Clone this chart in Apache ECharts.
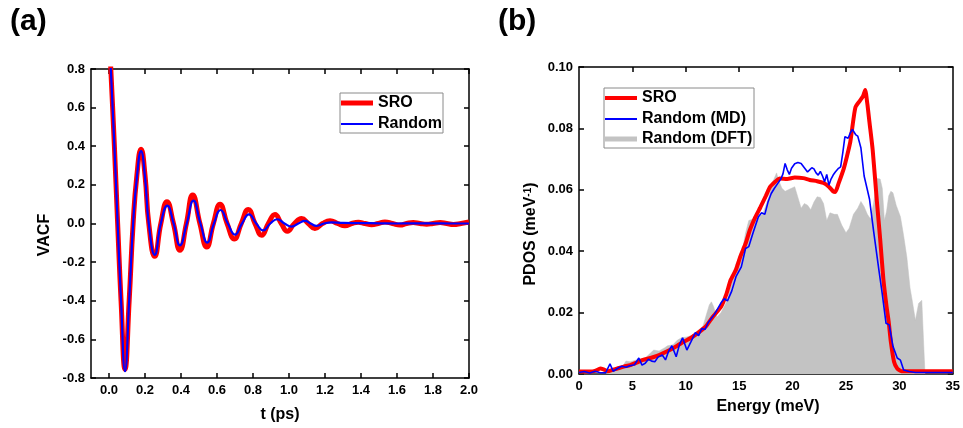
<!DOCTYPE html>
<html><head><meta charset="utf-8">
<script src="https://cdn.jsdelivr.net/npm/echarts@6/dist/echarts.min.js"></script>
<style>html,body{margin:0;padding:0;background:#fff}#c{width:963px;height:428px}</style>
</head><body><div id="c"></div>
<script>
// ---------- Panel (a): VACF ----------
const sroT = [0,0.01,0.03,0.048,0.067,0.089,0.112,0.134,0.155,0.178,0.2,0.221,0.254,0.288,0.322,0.358,0.394,0.43,0.465,0.505,0.543,0.58,0.617,0.656,0.696,0.735,0.774,0.811,0.848,0.885,0.922,0.957,0.991,1.03,1.07,1.107,1.144,1.186,1.228,1.27,1.311,1.348,1.385,1.422,1.459,1.496,1.533,1.575,1.617,1.653,1.69,1.728,1.765,1.8,1.84,1.876,1.913,1.956,2.0];
const sroV = [1.0,0.8,0.4,0,-0.4,-0.755,-0.4,0,0.25,0.385,0.25,0,-0.17,0,0.113,0,-0.139,0,0.148,0,-0.122,0,0.10,0,-0.08,0,0.073,0,-0.061,0,0.047,0,-0.04,0,0.026,0,-0.026,0,0.014,0,-0.012,0,0.007,0,-0.007,0,0.008,0,-0.008,0,0.005,0,-0.004,0,0.005,0,-0.005,0,0.008];
const rndT = [0,0.01,0.03,0.048,0.067,0.089,0.112,0.134,0.155,0.178,0.2,0.221,0.254,0.288,0.324,0.359,0.394,0.432,0.469,0.508,0.546,0.583,0.62,0.66,0.7,0.739,0.778,0.818,0.857,0.896,0.935,0.975,1.015,1.052,1.089,1.12,1.154,1.195,1.237,1.3,1.4,1.5,1.6,1.7,1.8,1.9,2.0];
const rndV = [1.0,0.8,0.4,0,-0.4,-0.765,-0.4,0,0.24,0.375,0.24,0,-0.162,0,0.093,0,-0.113,0,0.118,0,-0.099,0,0.07,0,-0.058,0,0.047,0,-0.036,0,0.022,0,-0.016,0,0.014,0,-0.012,0,0.006,0.003,0.002,0.001,0,0.001,0.001,0,0];
const vacfXTicks = [0,0.2,0.4,0.6,0.8,1.0,1.2,1.4,1.6,1.8,2.0];

// ---------- Panel (b): PDOS ----------
const sroE = [0,1,1.5,2.0,2.3,2.7,3.2,3.6,4.2,4.8,5.4,6.0,6.7,7.3,7.9,8.5,9.2,9.8,10.5,11.3,11.9,12.5,13.3,13.8,14.2,14.7,15.1,15.6,16.0,16.5,17.0,17.5,17.9,18.4,18.8,19.5,20.2,21.0,21.6,22.3,22.9,23.4,23.8,24.0,24.3,24.8,25.1,25.4,25.7,25.9,26.3,26.6,26.8,27.0,27.2,27.5,27.9,28.2,28.5,28.8,29.0,29.2,29.5,29.8,30.2,35];
const sroP = [0.0008,0.0008,0.001,0.0018,0.0015,0.0009,0.0014,0.0018,0.0024,0.0029,0.0037,0.0046,0.0052,0.0059,0.0068,0.0078,0.0092,0.0105,0.0118,0.0138,0.0156,0.0185,0.0219,0.026,0.0306,0.034,0.0382,0.0425,0.0469,0.051,0.0544,0.058,0.061,0.0627,0.0637,0.0635,0.064,0.0638,0.0632,0.0628,0.0622,0.061,0.0595,0.0593,0.062,0.067,0.071,0.0755,0.083,0.087,0.089,0.0905,0.0925,0.088,0.082,0.073,0.056,0.044,0.031,0.022,0.017,0.0105,0.004,0.0018,0.0009,0.0009];
const mdE = [0,0.5,1.0,1.5,2.0,2.5,2.9,3.2,3.6,4.0,4.4,4.75,5.2,5.6,5.9,6.2,6.5,6.8,7.1,7.4,7.8,8.1,8.4,8.7,9.1,9.4,9.7,10.1,10.5,10.9,11.2,11.5,11.8,12.1,12.7,13.3,13.6,13.9,14.3,14.7,15.2,15.6,15.9,16.3,16.8,17.1,17.4,17.7,18.0,18.3,18.6,18.9,19.1,19.3,19.5,19.7,19.9,20.2,20.5,20.8,21.1,21.4,21.6,21.8,22.0,22.2,22.4,22.6,22.8,23.0,23.2,23.4,23.6,23.8,24.0,24.3,24.5,24.7,24.9,25.2,25.4,25.6,25.9,26.1,26.4,26.7,27.0,27.2,27.6,28.1,28.4,28.75,29.05,29.4,29.8,30.1,30.4,30.9,31.5,35];
const mdP = [0.0005,0.0008,0.0003,0.0009,0.0004,0.0004,0.0033,0.0009,0.0018,0.0025,0.0022,0.0027,0.003,0.0052,0.0029,0.0035,0.0048,0.0042,0.004,0.0055,0.0062,0.0046,0.0075,0.0092,0.0056,0.0095,0.0118,0.0078,0.0106,0.0135,0.0125,0.0148,0.0145,0.0168,0.0195,0.0232,0.0245,0.0238,0.027,0.0317,0.0349,0.0409,0.0415,0.046,0.0512,0.0525,0.052,0.056,0.0588,0.0605,0.062,0.0635,0.0652,0.0686,0.0665,0.065,0.067,0.0685,0.0689,0.0686,0.0672,0.0658,0.0665,0.0672,0.0668,0.0655,0.0648,0.066,0.0645,0.0626,0.065,0.0615,0.0635,0.0648,0.0658,0.067,0.0675,0.072,0.0773,0.0768,0.0785,0.0797,0.078,0.0775,0.0736,0.0645,0.06,0.057,0.0462,0.0334,0.026,0.0165,0.016,0.009,0.0052,0.0045,0.0013,0.0008,0.0005,0.0005];
const dftE = [0,2.5,3.0,3.5,4.0,4.4,4.8,5.3,5.8,6.2,6.6,7.0,7.5,8.0,8.3,8.8,9.2,9.6,10.0,10.5,11.0,11.6,11.9,12.2,12.4,12.6,12.9,13.3,13.9,14.3,14.7,15.0,15.3,15.6,15.9,16.3,16.7,17.2,17.5,17.8,18.2,18.5,18.7,19.0,19.3,19.6,19.9,20.2,20.5,20.8,21.1,21.4,21.7,22.0,22.3,22.6,22.9,23.2,23.5,23.9,24.2,24.6,25.0,25.3,25.7,26.1,26.4,26.7,27.0,27.3,27.6,27.9,28.2,28.4,28.6,28.8,29.0,29.2,29.4,29.7,30.1,30.4,30.7,31.0,31.2,31.5,31.8,32.1,32.3,32.4,35];
const dftP = [0,0,0.0008,0.0012,0.002,0.0042,0.004,0.0045,0.005,0.0052,0.0065,0.0078,0.0075,0.0085,0.0092,0.0095,0.011,0.0118,0.012,0.0125,0.0138,0.0155,0.019,0.0225,0.0235,0.022,0.0185,0.02,0.024,0.031,0.036,0.038,0.0403,0.046,0.05,0.0505,0.051,0.052,0.055,0.058,0.063,0.0655,0.063,0.0605,0.0595,0.06,0.0605,0.061,0.0575,0.054,0.0555,0.055,0.0535,0.056,0.0577,0.0575,0.0555,0.05,0.0525,0.052,0.052,0.0485,0.046,0.0475,0.052,0.054,0.0562,0.0545,0.052,0.0505,0.056,0.0637,0.0635,0.0605,0.05,0.053,0.058,0.0595,0.059,0.055,0.0512,0.045,0.038,0.028,0.024,0.0175,0.023,0.024,0.0078,0,0];
const energyLabels = [0,5,10,15,20,25,30,35];
const energyBottomTicks = [3.5,7,10.5,14,17.5,21,24.5,28,31.5];
const energyTopTicks = [5,10,15,20,25,30];

const FONT = '"Liberation Sans", Arial, Helvetica, sans-serif';
const pairs = (x, y) => x.map((v, i) => [v, y[i]]);
const line = { show: true, onZero: false, lineStyle: { color: '#000', width: 1.5 } };
const tick = (vals) => ({ show: true, inside: true, length: 5, customValues: vals, lineStyle: { color: '#000', width: 1.5 } });
const lab = (extra) => Object.assign({ color: '#000', fontFamily: FONT, fontWeight: 'bold', fontSize: 13, margin: 6 }, extra);

const chart = echarts.init(document.getElementById('c'), null, { renderer: 'canvas' });
const legBase = {
  orient: 'vertical', icon: 'rect', itemWidth: 32, padding: 0, selectedMode: false,
  itemStyle: { borderWidth: 0 },
  textStyle: { fontFamily: FONT, fontWeight: 'bold', fontSize: 16, color: '#000' }
};
const option = {
  backgroundColor: '#fff',
  animation: false,
  grid: [
    { left: 91, top: 69, width: 378, height: 309 },
    { left: 579, top: 67, width: 379, height: 307 }
  ],
  xAxis: [
    { gridIndex: 0, type: 'value', min: -0.1, max: 2.0, position: 'bottom', axisLine: line, axisTick: tick(vacfXTicks),
      axisLabel: lab({ customValues: vacfXTicks, formatter: v => v.toFixed(1) }), splitLine: { show: false } },
    { gridIndex: 0, type: 'value', min: -0.1, max: 2.0, position: 'top', axisLine: line, axisTick: tick(vacfXTicks),
      axisLabel: { show: false }, splitLine: { show: false } },
    { gridIndex: 1, type: 'value', min: 0, max: 35, position: 'bottom', axisLine: line, axisTick: tick(energyBottomTicks),
      axisLabel: lab({ customValues: energyLabels, formatter: v => String(v) }), splitLine: { show: false } },
    { gridIndex: 1, type: 'value', min: 0, max: 35, position: 'top', axisLine: line, axisTick: tick(energyTopTicks),
      axisLabel: { show: false }, splitLine: { show: false } }
  ],
  yAxis: [
    { gridIndex: 0, type: 'value', min: -0.8, max: 0.8, interval: 0.2, position: 'left', axisLine: line,
      axisTick: { show: true, inside: true, length: 5, lineStyle: { color: '#000', width: 1.5 } },
      axisLabel: lab({ formatter: v => v.toFixed(1) }), splitLine: { show: false } },
    { gridIndex: 0, type: 'value', min: -0.8, max: 0.8, interval: 0.2, position: 'right', axisLine: line,
      axisTick: { show: true, inside: true, length: 5, lineStyle: { color: '#000', width: 1.5 } },
      axisLabel: { show: false }, splitLine: { show: false } },
    { gridIndex: 1, type: 'value', min: 0, max: 0.1, interval: 0.02, position: 'left', axisLine: line,
      axisTick: { show: true, inside: true, length: 5, lineStyle: { color: '#000', width: 1.5 } },
      axisLabel: lab({ formatter: v => v.toFixed(2) }), splitLine: { show: false } },
    { gridIndex: 1, type: 'value', min: 0, max: 0.1, interval: 0.02, position: 'right', axisLine: line,
      axisTick: { show: true, inside: true, length: 5, lineStyle: { color: '#000', width: 1.5 } },
      axisLabel: { show: false }, splitLine: { show: false } }
  ],
  legend: [
    Object.assign({}, legBase, { data: ['SRO'], left: 341, top: 95, itemHeight: 5 }),
    Object.assign({}, legBase, { data: ['Random'], left: 341, top: 116, itemHeight: 2 }),
    Object.assign({}, legBase, { data: ['SRO'], left: 605, top: 90, itemHeight: 4 }),
    Object.assign({}, legBase, { data: ['Random (MD)'], left: 605, top: 111, itemHeight: 2 }),
    Object.assign({}, legBase, { data: ['Random (DFT)'], left: 605, top: 131, itemHeight: 5 })
  ],
  series: [
    { name: 'SRO', type: 'line', xAxisIndex: 0, yAxisIndex: 0, data: pairs(sroT, sroV), smooth: 0.5,
      showSymbol: false, symbol: 'none', color: '#ff0000', lineStyle: { color: '#ff0000', width: 5 }, z: 2 },
    { name: 'Random', type: 'line', xAxisIndex: 0, yAxisIndex: 0, data: pairs(rndT, rndV), smooth: 0.5,
      showSymbol: false, symbol: 'none', color: '#0000ff', lineStyle: { color: '#0000ff', width: 2.2 }, z: 3 },
    { name: 'Random (DFT)', type: 'line', xAxisIndex: 2, yAxisIndex: 2, data: pairs(dftE, dftP),
      showSymbol: false, symbol: 'none', color: '#c3c3c3', lineStyle: { color: '#c3c3c3', width: 0.5 },
      areaStyle: { color: '#c3c3c3', opacity: 1 }, z: 1 },
    { name: 'SRO', type: 'line', xAxisIndex: 2, yAxisIndex: 2, data: pairs(sroE, sroP), smooth: 0.2,
      showSymbol: false, symbol: 'none', color: '#ff0000', lineStyle: { color: '#ff0000', width: 4 }, z: 2 },
    { name: 'Random (MD)', type: 'line', xAxisIndex: 2, yAxisIndex: 2, data: pairs(mdE, mdP),
      showSymbol: false, symbol: 'none', color: '#0000ff', lineStyle: { color: '#0000ff', width: 1.6 }, z: 3 }
  ],
  graphic: [
    { type: 'text', x: 10, y: 22, style: { text: '(a)', fontFamily: FONT, fontWeight: 'bold', fontSize: 30, fill: '#000', align: 'left', verticalAlign: 'middle' } },
    { type: 'text', x: 498, y: 22, style: { text: '(b)', fontFamily: FONT, fontWeight: 'bold', fontSize: 30, fill: '#000', align: 'left', verticalAlign: 'middle' } },
    { type: 'text', x: 45, y: 235, rotation: Math.PI / 2, style: { text: 'VACF', fontFamily: FONT, fontWeight: 'bold', fontSize: 16, fill: '#000', align: 'center', verticalAlign: 'middle' } },
    { type: 'text', x: 280, y: 415, style: { text: 't (ps)', fontFamily: FONT, fontWeight: 'bold', fontSize: 16, fill: '#000', align: 'center', verticalAlign: 'middle' } },
    { type: 'text', x: 768, y: 407, style: { text: 'Energy (meV)', fontFamily: FONT, fontWeight: 'bold', fontSize: 16, fill: '#000', align: 'center', verticalAlign: 'middle' } },
    { type: 'text', x: 531, y: 234, rotation: Math.PI / 2, style: {
        text: '{b|PDOS (meV}{s|-1}{b|)}', align: 'center', verticalAlign: 'middle', fill: '#000',
        rich: { b: { fontFamily: FONT, fontWeight: 'bold', fontSize: 16, fill: '#000' },
                s: { fontFamily: FONT, fontWeight: 'bold', fontSize: 10, fill: '#000', verticalAlign: 'top' } } } },
    { type: 'rect', shape: { x: 340, y: 93, width: 103, height: 40 }, style: { fill: 'none', stroke: '#8a8a8a', lineWidth: 1 } },
    { type: 'rect', shape: { x: 604, y: 88, width: 150, height: 60 }, style: { fill: 'none', stroke: '#8a8a8a', lineWidth: 1 } }
  ]
};
chart.setOption(option);
</script></body></html>
